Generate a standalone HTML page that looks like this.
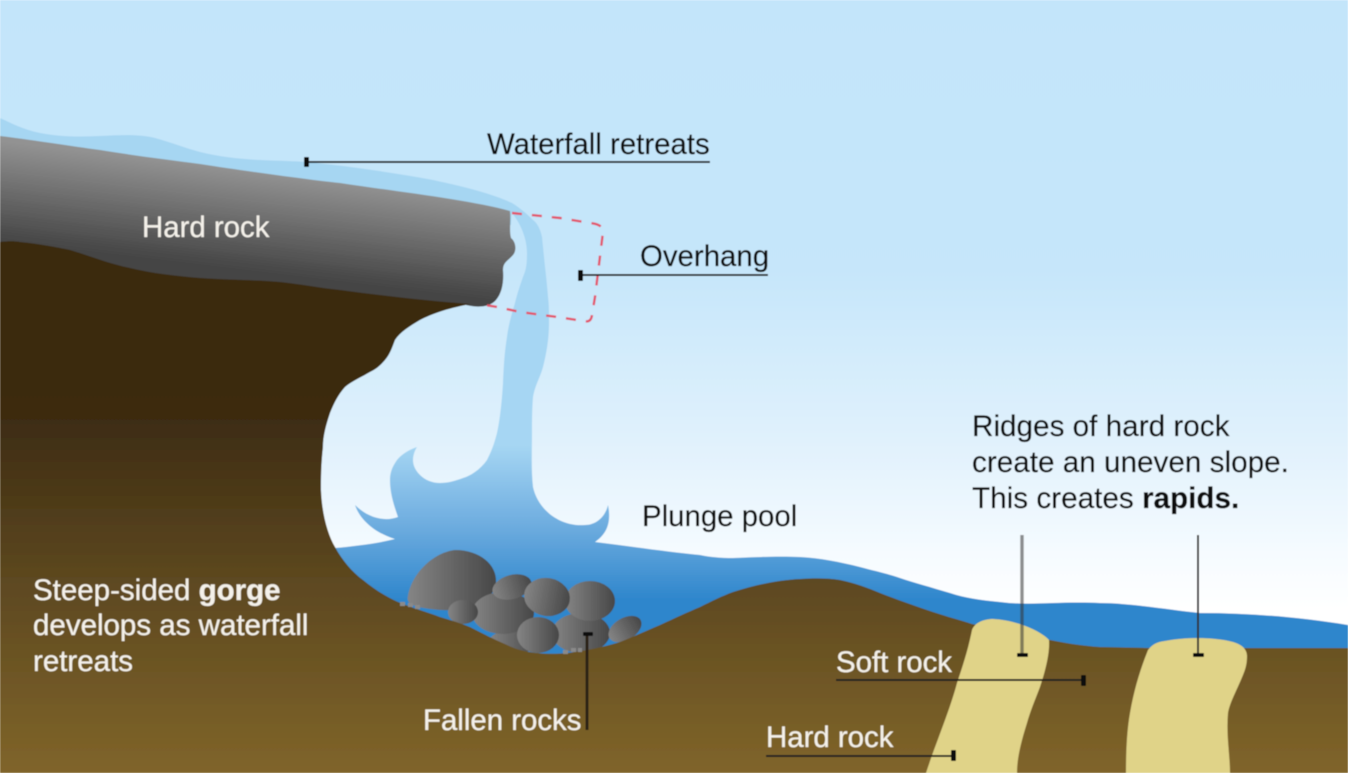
<!DOCTYPE html>
<html><head><meta charset="utf-8"><style>
html,body{margin:0;padding:0;background:#fff}
svg{display:block}
text{font-family:"Liberation Sans",sans-serif;font-size:29.4px;fill:#111;stroke:#111;stroke-width:.2px}
.w{fill:#f4f1ea;stroke:#f4f1ea}
.l{font-size:29.7px}
.s{font-size:29.5px}
</style></head><body>
<svg width="1348" height="773" viewBox="0 0 1348 773" xmlns="http://www.w3.org/2000/svg">
<defs>
<linearGradient id="sky" gradientUnits="userSpaceOnUse" x1="0" y1="0" x2="0" y2="773"><stop offset="0" stop-color="#c3e5fa"/><stop offset=".35" stop-color="#c6e6fa"/><stop offset=".6" stop-color="#e4f3fd"/><stop offset=".725" stop-color="#f7fcff"/><stop offset=".79" stop-color="#ffffff"/><stop offset="1" stop-color="#ffffff"/></linearGradient>
<linearGradient id="water" gradientUnits="userSpaceOnUse" x1="0" y1="445" x2="0" y2="600"><stop offset="0" stop-color="#a6d6f3"/><stop offset=".55" stop-color="#6aaade"/><stop offset="1" stop-color="#2e86cc"/></linearGradient>
<linearGradient id="ground" gradientUnits="userSpaceOnUse" x1="0" y1="290" x2="0" y2="773"><stop offset="0" stop-color="#3a2a11"/><stop offset=".25" stop-color="#3c2b11"/><stop offset=".6" stop-color="#5d4820"/><stop offset="1" stop-color="#80652a"/></linearGradient>
<linearGradient id="rock" gradientUnits="userSpaceOnUse" x1="200" y1="165" x2="188" y2="265"><stop offset="0" stop-color="#929292"/><stop offset="1" stop-color="#444444"/></linearGradient>
<linearGradient id="st" x1="0" y1="0" x2="1" y2="0"><stop offset="0" stop-color="#858585"/><stop offset="1" stop-color="#474747"/></linearGradient>
<filter id="b" x="-2%" y="-2%" width="104%" height="104%"><feGaussianBlur stdDeviation="0.5"/></filter>
</defs>
<g filter="url(#b)">
<rect width="1348" height="773" fill="url(#sky)"/>
<!-- top water sheet -->
<path d="M0,118 C15,125 25,130 40,133 C60,137 80,137 100,136 C120,135 140,134 155,138 C170,142 185,148 200,152 C220,157 240,159 260,160 C280,161 295,161 305,162 C340,165 390,172 433,180 C470,188 495,195 512,203 L511,225 L340,200 L0,150 Z" fill="#a6d6f2"/>
<!-- falls and pool -->
<path d="M511,212 C520,222 527,238 527,253 C527,265 526,270 523,277 C519,288 517,295 515,303 C511,316 508,328 507,337 C505,350 504,360 503,383 C502,400 500,420 497,433 C494,445 491,452 487,460 C480,470 470,476 463,478 C455,481 448,483 440,483 C432,483 425,480 420,475 C415,470 413,465 413,460 C413,455 415,450 417,447 C408,450 401,455 397,460 C392,467 390,473 390,480 C390,495 395,508 398,517 C385,522 368,518 355,505 C360,520 375,533 395,539 C375,544 355,546 335,548 L300,660 L1348,660 L1348,625 C1300,617 1250,613 1200,613 C1170,610 1130,603 1100,603 C1060,601 1030,606 1000,602 C980,600 965,598 950,593 C930,587 915,583 900,578 C885,573 875,571 860,567 C840,562 820,558 800,557 C780,556 755,557 733,558 C720,558 710,557 700,555 C670,552 635,547 595,542 C605,535 612,525 608,505 C605,518 595,525 585,525 C560,527 538,510 533,487 C531,470 532,450 532,433 C532,420 532,410 533,397 C535,385 540,378 543,367 C546,355 549,340 549,323 C549,310 549,305 548,297 C547,285 546,275 545,267 C544,257 543,247 542,237 C540,228 537,223 533,220 C527,214 520,208 512,203 Z" fill="url(#water)"/>
<!-- fallen rocks -->
<g fill="url(#st)">
<ellipse cx="581" cy="633" rx="29" ry="20"/>
<ellipse cx="590" cy="601" rx="25" ry="20"/>
<ellipse cx="513" cy="642" rx="24" ry="12"/>
<path d="M408,596 C412,572 435,552 455,550 C480,550 497,565 496,582 C495,600 470,612 440,610 C420,608 405,606 408,596 Z"/>
<ellipse cx="503" cy="613" rx="31" ry="21"/>
<ellipse cx="512" cy="587" rx="20" ry="12" transform="rotate(-15 512 587)"/>
<ellipse cx="547" cy="597" rx="23" ry="19" transform="rotate(10 547 597)"/>
<ellipse cx="463" cy="612" rx="15" ry="12"/>
<ellipse cx="538" cy="635" rx="21" ry="18"/>
<ellipse cx="625" cy="629" rx="18" ry="11" transform="rotate(-30 625 629)"/>
</g>
<!-- hard rock -->
<path d="M0,136 C40,141 70,146 100,150 C130,155 170,160 200,164 C245,171 310,180 340,183 C400,192 470,200 510,211 C511,222 509,230 511,238 C517,243 516,252 513,255 C508,261 503,262 503,270 C504,282 502,293 496,300 C490,307 478,308 466,305 L340,300 L0,260 Z" fill="url(#rock)"/>
<!-- ground -->
<path d="M0,242 C8,241 15,241 20,242 C40,244 55,247 70,250 C90,256 110,264 130,268 C150,273 175,276 200,278 C230,280 255,280 280,282 C300,284 320,288 340,290 C385,296 430,301 470,304 C445,309 432,314 420,320 C410,326 400,332 395,340 C392,348 390,354 385,360 C380,366 376,369 370,372 C360,378 352,381 345,387 C338,395 334,403 330,413 C326,425 323,436 323,447 C321,465 321,478 321,490 C322,515 328,535 335,547 C342,560 352,572 363,580 C375,590 387,597 398,602 C412,608 427,612 440,617 C450,620 460,623 470,627 C482,633 495,640 507,645 C517,650 527,652 537,653 C555,655 572,653 587,650 C598,648 610,645 620,642 C635,636 648,630 660,625 C675,618 688,612 700,607 C712,601 722,596 733,592 C755,585 778,580 800,579 C815,578 828,578 840,580 C855,583 868,588 880,593 C898,600 915,606 933,612 C948,617 960,620 972,624 L1050,640 C1070,644 1085,646 1100,647 L1150,648 L1348,648 L1348,773 L0,773 Z" fill="url(#ground)"/>
<!-- small grey marks -->
<g fill="#8a8a8a">
<rect x="400" y="602" width="5" height="4"/><rect x="408" y="603" width="5" height="4"/><rect x="415" y="605" width="5" height="4"/>
<rect x="563" y="650" width="5" height="4"/><rect x="571" y="648" width="5" height="4"/><rect x="578" y="648" width="4" height="4"/>
</g>
<!-- soft ridges -->
<path d="M972,630 C975,622 985,619 993,619 C1015,620 1040,630 1049,640 C1050,655 1044,675 1040,687 C1035,700 1030,712 1027,723 C1020,745 1017,760 1017,773 L926,773 C935,745 950,710 957,683 C963,665 968,650 972,630 Z" fill="#e0d388"/>
<path d="M1148,650 C1152,645 1156,642 1165,641 C1185,637 1215,637 1233,642 C1243,645 1247,650 1247,656 C1247,665 1245,670 1243,675 C1236,692 1230,702 1228,713 C1226,735 1230,755 1230,773 L1126,773 C1126,750 1127,730 1130,713 C1134,690 1140,670 1148,650 Z" fill="#e0d388"/>
<!-- dashed overhang box -->
<path d="M512,213 L560,218 L590,223 Q603,224 603,232 L595,297 L592,315 Q591,323 584,321 L557,317 L520,312 L497,307 L485,305" fill="none" stroke="#e2566c" stroke-width="2.4" stroke-dasharray="10 10"/>
<!-- leader lines -->
<g stroke="#222" stroke-width="2" fill="none">
<path d="M305,162H710"/>
<path d="M580,275H768"/>
<path d="M836,680H1083"/>
<path d="M766,756H953"/>
<path d="M587,634V730" stroke-width="3" stroke="#2a2418"/>
<path d="M1198,535V656" stroke="#333"/>
<path d="M1022,535V656" stroke="#333" stroke-opacity=".55" stroke-width="3.4"/>
</g>
<g fill="#111">
<rect x="304" y="157" width="5" height="10" rx="1"/>
<rect x="578" y="270" width="5" height="11" rx="1"/>
<rect x="1081" y="675" width="5" height="11" rx="1"/>
<rect x="951" y="750" width="5" height="11" rx="1"/>
<rect x="583" y="632" width="10" height="4" rx="1"/>
<rect x="1017" y="653" width="11" height="4" rx="1"/>
<rect x="1193" y="653" width="11" height="4" rx="1"/>
</g>
<!-- labels -->
<text x="487" y="154">Waterfall retreats</text>
<text x="142" y="237" class="w">Hard rock</text>
<text x="640" y="266">Overhang</text>
<text x="642" y="526">Plunge pool</text>
<text x="972" y="436" class="l">Ridges of hard rock</text>
<text x="972" y="472" class="l">create an uneven slope.</text>
<text x="972" y="508" class="l">This creates <tspan font-weight="bold">rapids.</tspan></text>
<text x="33" y="600" class="w s">Steep-sided <tspan font-weight="bold">gorge</tspan></text>
<text x="33" y="635" class="w s">develops as waterfall</text>
<text x="33" y="671" class="w s">retreats</text>
<text x="423" y="730" class="w">Fallen rocks</text>
<text x="836" y="672" class="w">Soft rock</text>
<text x="766" y="747" class="w">Hard rock</text>
</g>
</svg>
</body></html>
